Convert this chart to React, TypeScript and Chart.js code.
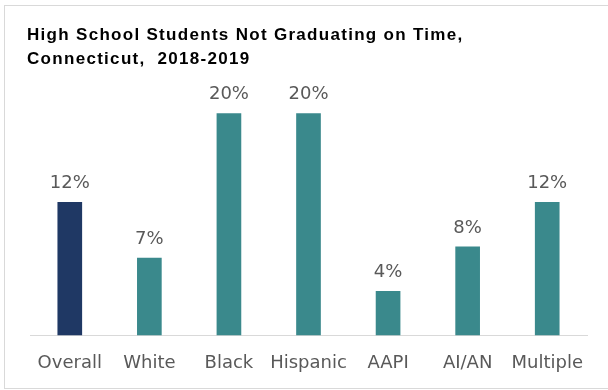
import React, { useEffect, useRef } from "react";
import { Chart, registerables } from "chart.js";

Chart.register(...registerables);

const titleLines = ["High School Students Not Graduating on Time,", "Connecticut,  2018-2019"];
const categories = ["Overall", "White", "Black", "Hispanic", "AAPI", "AI/AN", "Multiple"];
const values = [12, 7, 20, 20, 4, 8, 12];
const barColors = ["#1F3864", "#3A898C", "#3A898C", "#3A898C", "#3A898C", "#3A898C", "#3A898C"];

const decor = {
  id: "decor",
  beforeDraw(chart: any) {
    const ctx = chart.ctx;
    ctx.save();
    ctx.fillStyle = "#FFFFFF";
    ctx.fillRect(0, 0, chart.width, chart.height);
    ctx.strokeStyle = "#D9D9D9";
    ctx.lineWidth = 1;
    ctx.strokeRect(4.5, 5.5, 640, 383);
    ctx.fillStyle = "#000000";
    ctx.font = "bold 17px 'Liberation Sans', Arial, sans-serif";
    (ctx as any).letterSpacing = "1.3px";
    ctx.textBaseline = "alphabetic";
    ctx.textAlign = "left";
    ctx.fillText(titleLines[0], 27, 40);
    ctx.fillText(titleLines[1], 27, 64);
    ctx.restore();
  },
  afterDatasetsDraw(chart: any) {
    const ctx = chart.ctx;
    const meta = chart.getDatasetMeta(0);
    ctx.save();
    ctx.fillStyle = "#595959";
    ctx.font = "18px 'DejaVu Sans', sans-serif";
    ctx.textAlign = "center";
    ctx.textBaseline = "alphabetic";
    meta.data.forEach((bar: any, i: number) => {
      ctx.fillText(values[i] + "%", bar.x, bar.y - 14);
    });
    ctx.restore();
  },
};

export default function App() {
  const ref = useRef<HTMLCanvasElement>(null);
  useEffect(() => {
    document.body.style.margin = "0";
    const chart = new Chart(ref.current!, {
      type: "bar",
      data: {
        labels: categories,
        datasets: [
          {
            data: values,
            backgroundColor: barColors,
            barPercentage: 0.31,
            categoryPercentage: 1,
          },
        ],
      },
      options: {
        animation: false,
        responsive: false,
        maintainAspectRatio: false,
        layout: { padding: { left: 30, right: 21, top: 91, bottom: -1 } },
        plugins: { legend: { display: false }, tooltip: { enabled: false }, title: { display: false } },
        scales: {
          x: {
            grid: { display: false, drawTicks: false },
            border: { display: true, color: "#D9D9D9", width: 1 },
            ticks: {
              color: "#595959",
              font: { family: "'DejaVu Sans', sans-serif", size: 18 },
              padding: 17,
              maxRotation: 0,
              autoSkip: false,
            },
          },
          y: { display: false, min: 0, max: 22 },
        },
      },
      plugins: [decor],
    });
    return () => chart.destroy();
  }, []);
  return (
    <div style={{ position: "fixed", left: 0, top: 0, width: 608, height: 390 }}>
      <canvas ref={ref} width={608} height={390} style={{ width: 608, height: 390 }} />
    </div>
  );
}
